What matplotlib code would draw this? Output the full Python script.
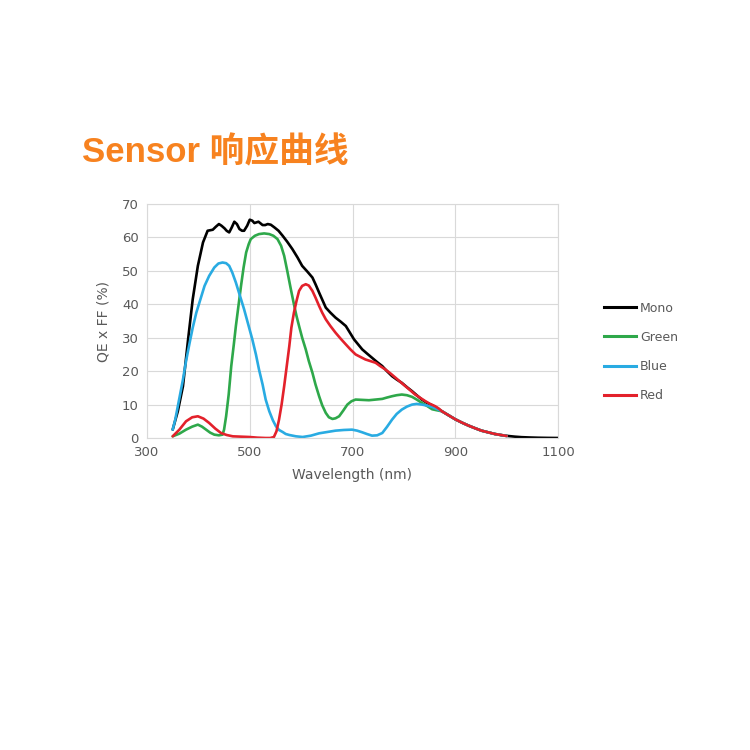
import matplotlib
matplotlib.use("Agg")
import matplotlib.pyplot as plt
from matplotlib.lines import Line2D

tail_wl = [874, 887, 900, 913, 926, 939, 951, 964, 977, 989, 1000]
tail_qe = [8.0, 6.8, 5.6, 4.6, 3.7, 2.9, 2.2, 1.7, 1.2, 0.9, 0.6]

mono_wl = [350, 360, 370, 380, 389, 399, 409, 418, 428, 434, 440, 445, 451, 455, 460, 465, 470, 475, 480, 485, 489,
           495, 500, 505, 509, 513, 517, 521, 525, 530, 535, 541, 548, 556, 564, 573, 583, 593, 602, 612, 622,
           628, 635, 648, 657, 667, 677, 687, 695, 703, 711, 719, 728, 738, 748, 758, 767, 777, 786, 796, 806, 816,
           825, 835, 845, 855, 864,
           874, 887, 900, 913, 926, 939, 951, 964, 977, 990, 1003, 1016, 1029, 1045, 1061, 1080, 1100]
mono_qe = [2.5, 8, 15.5, 29.5, 41.5, 51.5, 58.5, 62, 62.3, 63.2, 64, 63.5, 62.7, 62, 61.5, 63, 64.7, 64, 62.5, 62, 62,
           63.5, 65.3, 65, 64.3, 64.5, 64.7, 64.2, 63.7, 63.7, 64, 63.8, 63, 62, 60.5, 58.7, 56.5, 54, 51.5, 49.8, 48,
           46, 43.5, 39, 37.5, 36, 34.8, 33.5, 31.5, 29.5, 28, 26.5, 25.3, 24, 22.7, 21.5, 20, 18.5, 17.5, 16.5, 15.2, 14,
           12.8, 11.5, 10.5, 9.8, 9.0,
           8.0, 6.8, 5.6, 4.6, 3.7, 2.9, 2.2, 1.7, 1.2, 0.85, 0.6, 0.4, 0.25, 0.15, 0.08, 0.03, 0.0]

green_wl = [350, 363, 376, 388, 399, 407, 415, 423, 431, 440, 447, 450, 454, 459, 464, 469, 473, 478, 483, 488, 493,
            498, 502, 510, 518, 528, 538, 546, 554, 561, 567, 573, 580, 586, 591, 596, 602, 609, 615, 622, 628, 635,
            641, 648, 654, 661, 667, 674, 682, 690, 698, 706, 719, 732, 745, 758, 767, 777, 786, 796, 806, 816,
            825, 835, 845, 855, 864] + tail_wl
green_qe = [0.5, 1.3, 2.5, 3.4, 4, 3.4, 2.5, 1.6, 1, 0.8, 1, 2.5, 6.5, 13, 21.5, 28, 33.5, 39.5, 45.5, 51, 55.5,
            58, 59.5, 60.5, 61, 61.2, 61, 60.5, 59.5, 57.5, 54.5, 50, 44.5, 40, 36.5, 33.5, 30, 26.5, 23, 19.5, 16, 12.5,
            9.8, 7.5, 6.2, 5.7, 5.9, 6.5, 8.2, 10, 11, 11.5, 11.4, 11.3, 11.5, 11.7, 12.1, 12.5, 12.8, 13, 12.8, 12.3,
            11.5, 10.5, 9.6, 8.6, 8.3] + tail_qe

blue_wl = [350, 355, 360, 365, 370, 376, 383, 389, 396, 404, 412, 421, 431, 439, 447, 454, 460, 466, 473, 481, 489,
           497, 505, 512, 518, 525, 531, 538, 545, 551, 557, 564, 570, 577, 590, 603, 619, 635, 651, 667, 683,
           699, 709, 719, 728, 738, 748, 758, 767, 777, 786, 796, 806, 816, 825, 835, 845, 855, 864] + tail_wl
blue_qe = [2.5, 5.5, 9.5, 13.5, 17.5, 23, 28.5, 33, 37.5, 41.5, 45.5, 48.5, 51, 52.2, 52.5, 52.3, 51.5, 49.5, 46.5, 42.5, 38.5,
           34, 29.5, 25, 20.5, 16, 11.5, 8, 5.3, 3.5, 2.4, 1.8, 1.2, 0.9, 0.5, 0.3, 0.7, 1.4, 1.8, 2.2, 2.4,
           2.5, 2.2, 1.7, 1.2, 0.7, 0.8, 1.5, 3.3, 5.5, 7.2, 8.5, 9.4, 10, 10.2, 10, 9.7, 9.3, 8.7] + tail_qe

red_wl = [350, 363, 376, 388, 399, 410, 421, 433, 444, 455, 467, 483, 499, 515, 531, 540, 547, 552, 557, 562, 567,
          572, 577, 581, 586, 591, 596, 602, 609, 615, 622, 628, 635, 641, 648, 657, 667, 677, 687, 696, 706,
          716, 725, 735, 745, 754, 764, 774, 784, 793, 803, 813, 822, 832, 842, 851, 861, 868] + tail_wl
red_qe = [0.5, 2.5, 5, 6.2, 6.5, 5.8, 4.5, 2.8, 1.5, 0.9, 0.5, 0.4, 0.3, 0.1, 0, 0, 0.3, 2, 5.5, 10, 15.5,
          21.5, 27.5, 33, 37.5, 41, 44, 45.5, 46, 45.6, 44, 42, 39.5, 37.5, 35.5, 33.5, 31.5, 29.7, 28, 26.5, 25,
          24.2, 23.5, 23, 22.5, 21.5, 20.5, 19.3, 18, 16.8, 15.5, 14.2, 13, 12, 11, 10.2, 9.5, 8.8] + tail_qe

series_names = ["Mono", "Green", "Blue", "Red"]
series_colors = ["#000000", "#2ea84a", "#29abe2", "#e3212b"]

x_ticks = [300, 500, 700, 900, 1100]
y_ticks = [0, 10, 20, 30, 40, 50, 60, 70]

fig = plt.figure(figsize=(7.5, 7.5), dpi=100)
fig.patch.set_facecolor("white")
ax = fig.add_axes([0.196, 0.416, 0.548, 0.312])

data = [(mono_wl, mono_qe), (green_wl, green_qe), (blue_wl, blue_qe), (red_wl, red_qe)]
for (wl, qe), c in zip(data, series_colors):
    ax.plot(wl, qe, color=c, lw=1.9, solid_joinstyle="round", solid_capstyle="round")

ax.set_xlim(300, 1100)
ax.set_ylim(0, 70)
ax.set_xticks(x_ticks)
ax.set_yticks(y_ticks)
ax.grid(True, color="#d9d9d9", lw=0.8)
ax.set_axisbelow(True)
for s in ax.spines.values():
    s.set_color("#d9d9d9")
    s.set_linewidth(0.8)
ax.tick_params(length=0, labelsize=9.5, colors="#595959", pad=6)
ax.set_xlabel("Wavelength (nm)", fontsize=10, color="#595959", labelpad=6)
ax.set_ylabel("QE x FF (%)", fontsize=10, color="#595959", labelpad=8)

handles = [Line2D([0], [0], color=c, lw=2.2) for c in series_colors]
fig.legend(handles, series_names, loc="upper left", bbox_to_anchor=(0.79, 0.613),
           frameon=False, fontsize=9, labelcolor="#595959", handlelength=2.6,
           handletextpad=0.3, labelspacing=1.3)

fig.text(0.109, 0.797, "Sensor 响应曲线", fontsize=25, fontweight="bold", color="#f7821f",
         family=["Liberation Sans", "Noto Sans CJK SC"], ha="left", va="center")

fig.savefig("out.png", dpi=100, facecolor="white")
